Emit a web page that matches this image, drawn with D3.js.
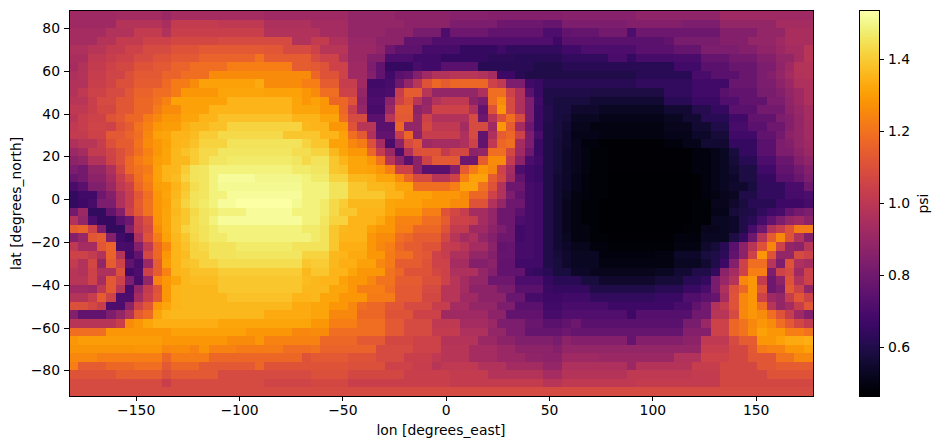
<!DOCTYPE html>
<html><head><meta charset="utf-8">
<style>html,body{margin:0;padding:0;background:#fff}svg{display:block}text{font-family:"DejaVu Sans",sans-serif;fill:#000}</style>
<script src="https://d3js.org/d3.v7.min.js"></script></head>
<body><svg id="c" width="939" height="448"></svg>
<script>
const xTicks=[-150,-100,-50,0,50,100,150];
const yTicks=[-80,-60,-40,-20,0,20,40,60,80];
const cbTicks=[0.6,0.8,1.0,1.2,1.4];
const lons=d3.range(80).map(i=>-180+4.5*i);
const lats=d3.range(45).map(j=>86-4*j);
const psiHundredths=[
[92,92,92,92,92,93,93,93,93,93,91,94,94,94,94,94,94,94,94,94,94,92,92,92,92,92,92,92,92,92,89,89,89,89,89,87,87,87,87,87,87,86,86,86,86,85,85,85,85,85,85,85,85,86,86,86,86,86,86,86,86,88,88,88,88,88,88,88,88,88,92,92,92,92,92,92,92,92,92,92],
[92,92,92,92,92,98,98,98,98,98,95,102,102,102,102,102,101,101,101,101,101,96,96,96,96,96,94,94,94,94,89,89,89,89,89,89,87,87,87,87,87,83,83,83,83,83,79,79,79,79,79,77,77,83,83,83,83,83,83,83,85,85,85,85,85,85,83,83,83,83,89,89,89,89,89,89,94,94,94,94],
[94,94,94,94,97,97,97,102,102,102,97,104,104,104,104,104,104,104,104,104,104,97,97,97,97,97,97,94,94,94,89,89,89,89,87,87,87,82,82,82,71,79,79,79,79,76,76,76,76,76,76,71,71,76,77,77,77,81,81,81,71,79,79,79,79,79,79,79,79,79,85,85,85,85,89,89,89,95,95,95],
[94,94,94,98,98,102,102,102,105,105,105,107,107,107,107,107,108,108,108,108,108,108,108,108,97,97,102,102,96,96,90,90,90,87,87,87,76,76,76,72,72,72,72,72,72,72,72,72,72,72,72,72,67,74,74,74,74,74,74,74,74,74,74,74,76,82,82,82,82,82,85,85,85,89,89,89,92,95,95,95],
[96,96,99,99,102,102,105,105,108,108,108,111,111,111,113,113,113,113,113,113,113,112,112,108,108,108,105,99,99,99,91,91,91,88,79,75,75,75,69,69,69,69,65,65,65,65,68,64,64,64,64,64,64,68,68,71,71,71,71,71,71,74,74,74,74,77,77,77,83,83,83,83,85,85,88,88,91,94,94,99],
[95,95,101,101,103,105,105,108,108,111,111,113,113,113,116,116,116,116,116,116,120,114,114,114,114,114,108,105,105,97,91,91,85,85,71,71,71,68,68,68,65,65,65,65,65,63,63,63,62,62,62,62,62,64,64,64,64,64,70,70,65,69,69,69,69,70,70,70,77,77,77,81,81,81,85,85,89,89,94,99],
[94,97,102,102,105,107,107,111,111,113,113,116,116,119,119,119,119,123,123,123,123,123,123,123,114,114,113,111,105,105,92,92,83,76,65,65,65,70,68,68,74,74,74,74,62,62,62,62,62,62,60,60,60,62,62,62,62,62,62,62,62,62,62,62,62,68,68,68,74,74,74,78,78,78,83,83,88,92,98,98],
[96,98,103,103,106,106,110,113,113,113,116,116,119,119,119,126,126,126,126,126,126,126,126,126,126,126,117,111,111,105,92,92,85,76,68,74,76,85,92,97,97,99,99,99,97,94,67,67,62,60,60,60,60,60,60,60,60,60,60,60,60,62,62,62,62,62,62,70,70,74,74,74,78,78,83,85,89,94,97,98],
[97,97,104,104,106,110,110,114,114,114,118,122,122,126,131,131,131,131,131,131,133,126,126,126,126,123,123,114,114,103,103,92,68,68,69,79,89,99,111,117,114,117,117,117,117,105,101,83,83,68,66,62,62,62,62,62,62,62,62,62,62,64,64,64,64,64,64,68,68,68,68,78,78,78,83,83,87,91,96,96],
[97,101,105,105,108,108,112,116,116,119,119,122,129,129,129,129,132,132,132,132,132,131,131,131,131,129,126,119,119,105,105,89,69,69,71,103,114,114,99,89,89,89,89,89,96,119,119,105,96,74,66,60,60,60,60,60,59,59,59,59,59,59,59,59,64,64,64,68,68,68,74,76,76,76,82,82,85,89,92,96],
[99,99,104,108,108,112,112,117,117,120,124,131,131,131,131,131,131,135,135,135,135,135,135,135,132,129,131,129,117,117,111,87,71,71,87,105,111,99,89,97,101,101,101,87,83,119,126,108,96,83,68,60,58,58,58,58,56,56,56,56,56,56,56,56,62,62,62,66,66,66,72,72,76,76,76,83,83,88,92,96],
[101,101,104,107,107,112,112,117,117,122,126,126,131,131,131,135,135,135,135,135,135,135,135,135,132,132,132,129,129,117,104,89,69,69,91,114,114,87,91,105,105,105,105,96,76,111,129,108,96,83,66,61,58,58,55,55,55,53,53,53,53,53,53,53,56,56,56,61,61,65,65,74,74,74,81,81,81,87,90,94],
[99,103,105,105,111,113,117,117,122,125,129,129,132,132,135,135,138,138,138,138,138,138,138,138,135,135,135,132,132,119,108,108,74,74,99,113,113,89,105,97,97,97,97,108,79,99,111,119,108,83,66,61,58,57,53,53,53,51,51,51,51,51,51,51,53,53,56,56,62,62,62,68,68,76,76,76,83,85,89,94],
[101,103,106,106,105,111,114,120,124,129,130,130,134,136,136,138,138,142,142,142,142,142,142,142,142,136,135,135,129,129,111,99,99,74,74,117,89,89,107,101,101,101,94,108,108,92,129,114,94,79,66,60,58,56,52,52,50,50,50,50,50,50,50,50,52,52,52,56,56,60,60,69,69,74,74,79,79,85,89,93],
[102,102,105,105,113,113,116,119,125,131,132,135,135,137,140,140,143,143,143,143,143,143,143,139,139,139,139,135,135,131,119,113,96,76,76,103,117,87,103,103,103,103,96,108,76,96,114,117,105,83,70,60,58,55,51,51,51,50,50,50,50,50,50,50,51,51,51,54,54,57,57,68,68,68,76,76,81,87,89,93],
[96,99,99,103,110,114,114,120,126,129,131,135,136,138,142,142,142,145,145,145,145,145,145,145,145,142,139,139,131,131,125,122,110,94,70,87,108,112,92,94,94,94,96,105,76,101,117,119,94,83,66,60,57,55,52,49,49,47,47,47,47,47,47,47,49,49,51,51,56,56,56,65,65,65,74,74,83,85,89,92],
[91,94,102,102,106,110,114,119,124,129,132,136,138,140,143,143,146,146,146,146,146,146,146,146,144,144,142,142,136,132,129,129,117,102,91,71,96,110,111,111,102,107,107,87,89,119,119,107,92,79,66,60,57,54,52,50,48,48,47,47,47,47,47,47,47,47,47,49,49,51,53,58,65,65,74,74,83,83,87,91],
[87,89,97,97,105,110,117,122,125,130,132,136,136,140,143,146,146,147,147,147,147,147,147,147,146,143,145,145,139,135,132,132,129,120,99,87,74,87,105,113,113,113,79,79,114,126,126,102,87,71,68,60,57,54,52,50,48,48,47,47,47,47,47,47,47,47,47,49,49,51,53,57,62,62,71,71,78,78,85,88],
[83,81,89,89,96,107,117,120,122,131,135,136,140,145,146,149,149,149,149,149,149,149,149,149,147,147,146,146,139,138,132,132,131,129,123,105,105,87,74,74,74,85,114,122,129,125,105,94,71,68,66,60,57,54,52,50,48,48,47,47,47,47,47,47,47,47,47,49,49,51,53,56,59,59,68,68,76,76,81,85],
[78,81,87,87,94,103,110,119,124,131,135,137,142,145,146,149,152,152,152,152,150,150,150,150,150,149,147,147,142,142,136,136,135,132,132,126,117,108,108,99,99,105,123,131,131,114,107,92,76,68,66,60,56,54,51,49,48,48,46,46,46,46,46,46,46,46,46,47,49,51,53,54,59,59,65,65,74,74,78,83],
[70,74,84,84,91,101,105,117,122,130,131,135,139,144,146,149,151,151,151,151,151,151,151,151,151,149,149,149,145,145,139,139,136,136,135,132,132,119,119,119,119,123,132,132,120,111,97,79,79,69,68,60,56,54,51,49,48,48,46,46,46,46,46,46,46,46,46,47,49,51,53,55,55,58,64,64,64,70,70,79],
[64,68,68,79,85,96,103,112,119,129,132,136,140,145,146,149,149,152,152,152,152,152,152,152,152,149,149,149,145,145,139,139,139,139,135,135,131,131,131,129,129,129,126,117,117,105,97,83,76,69,68,60,56,53,50,49,48,48,46,46,46,46,46,46,46,46,46,47,49,50,52,53,60,60,64,64,64,69,69,71],
[64,67,69,83,83,96,103,114,120,129,131,137,142,145,147,149,152,152,153,153,153,153,153,153,151,149,149,147,143,140,136,136,136,136,132,131,131,131,129,129,129,126,126,111,111,97,89,79,79,69,68,60,56,52,50,48,48,46,46,46,46,46,46,46,46,46,46,48,48,52,52,55,58,62,62,62,67,67,67,69],
[81,91,64,64,76,85,105,113,120,129,132,136,139,143,146,147,149,149,149,152,152,152,152,152,149,149,149,147,143,139,139,135,135,135,132,129,129,129,123,123,111,107,103,94,94,89,79,79,74,69,68,60,56,52,50,48,48,46,46,46,46,46,46,46,46,46,46,48,48,51,51,57,59,60,64,68,69,77,81,83],
[97,89,71,65,65,74,79,103,110,128,132,137,139,144,146,149,152,152,152,152,152,152,152,152,152,149,149,146,142,142,135,135,135,133,129,124,124,124,119,119,114,105,105,103,94,89,79,79,71,69,68,60,56,52,50,48,48,46,46,46,46,46,46,46,46,46,46,48,48,53,53,54,60,62,69,76,83,89,92,87],
[114,116,105,83,64,64,85,102,108,126,132,137,142,144,145,147,149,149,149,149,149,149,149,149,149,147,147,145,139,136,135,135,131,129,129,123,123,117,117,117,111,102,102,92,92,87,83,79,68,69,68,60,56,52,50,50,48,46,46,46,46,46,46,46,46,46,48,48,52,52,53,54,60,69,79,97,103,111,122,122],
[85,90,112,114,85,68,65,96,111,122,131,136,139,143,145,147,147,149,149,149,149,149,149,149,149,149,147,145,139,135,135,135,129,126,126,119,117,114,114,114,107,99,94,96,89,85,79,79,68,69,68,60,56,53,50,50,48,48,47,47,47,47,47,47,47,49,49,49,53,53,53,59,65,79,99,114,125,111,97,85],
[101,94,94,112,116,70,69,85,101,117,125,135,138,142,143,145,145,145,147,147,147,147,147,147,145,145,145,145,139,134,134,134,129,125,123,117,114,114,111,111,103,102,99,94,94,87,76,77,69,69,68,60,56,54,52,52,49,49,48,48,48,48,48,48,48,50,50,50,55,57,62,74,87,99,111,125,105,89,87,99],
[105,105,102,97,116,98,68,76,107,117,129,135,137,142,142,145,145,145,146,146,146,146,146,146,146,142,142,142,136,135,133,133,129,129,122,119,119,114,112,105,103,96,96,89,89,85,77,77,69,69,68,60,57,55,53,53,53,49,49,49,49,49,49,50,50,54,54,54,58,60,63,76,87,105,129,111,89,89,108,105],
[102,97,107,89,114,105,76,70,91,114,130,135,138,139,142,142,144,144,144,144,144,144,144,144,144,139,140,140,136,134,134,131,131,125,122,114,114,114,111,105,105,94,94,85,85,87,76,76,68,68,68,60,58,55,53,53,53,50,50,50,50,50,50,50,50,53,53,53,56,60,67,85,105,119,119,99,83,111,96,94],
[99,97,105,96,96,110,68,71,105,114,124,135,136,138,138,138,140,140,140,140,140,140,140,140,140,136,139,139,135,135,132,129,129,129,120,117,111,111,111,107,105,96,96,96,89,85,76,76,76,66,64,62,58,58,54,54,52,52,52,52,52,52,52,53,53,56,56,60,60,64,87,94,105,123,123,83,105,108,92,105],
[99,99,105,94,113,105,83,70,89,124,129,132,136,137,137,137,139,139,139,139,139,139,139,139,139,137,136,135,135,131,129,129,125,120,120,114,114,114,110,110,105,99,94,89,89,79,79,79,71,71,71,65,62,62,62,58,58,55,55,55,55,55,55,57,57,57,62,62,65,82,90,98,125,129,102,79,87,111,97,105],
[92,92,91,101,113,99,70,89,102,111,129,135,136,136,136,136,139,139,139,139,139,139,139,139,139,136,136,136,132,132,129,123,123,123,119,113,113,113,108,108,99,99,94,87,87,87,82,82,74,74,74,66,65,65,65,65,60,60,60,60,60,60,60,62,62,62,66,66,70,82,96,110,117,129,111,79,83,113,105,89],
[98,98,103,114,105,71,71,94,104,112,129,135,136,136,136,136,136,138,138,138,138,138,138,138,135,135,136,132,132,129,129,129,122,122,122,113,113,113,107,107,99,99,92,92,87,87,87,78,78,69,69,67,67,68,68,68,64,64,64,64,64,64,64,66,66,66,72,72,75,77,94,111,125,129,105,92,89,103,112,105],
[110,110,107,103,71,71,87,105,112,129,132,135,136,136,136,136,136,136,136,136,136,136,136,136,133,133,132,132,129,129,125,119,117,117,112,112,108,108,108,103,103,94,94,89,89,89,83,83,74,74,74,68,68,70,70,70,70,70,67,67,67,67,67,67,67,70,70,76,81,97,102,111,125,129,119,99,89,94,103,112],
[85,76,76,76,83,89,97,114,118,132,135,136,136,136,136,136,136,136,136,136,136,133,133,133,133,133,132,132,125,125,125,117,117,117,111,111,111,105,105,105,92,92,92,92,92,87,87,76,76,76,76,69,69,72,72,72,72,72,72,72,67,73,73,73,73,73,73,80,80,99,99,108,125,129,126,119,111,103,92,85],
[99,99,99,99,99,104,126,129,132,134,134,134,134,134,134,134,132,132,132,132,132,132,132,132,132,132,129,129,123,123,123,119,119,119,113,113,108,108,108,101,101,101,94,94,94,91,83,83,83,78,78,74,74,76,79,74,74,74,74,74,74,74,74,74,74,74,82,82,91,105,105,117,120,125,129,126,119,113,107,102],
[119,119,119,119,129,129,129,129,129,129,129,131,131,131,131,131,131,131,131,129,129,129,129,129,125,125,126,126,119,119,119,119,119,119,113,113,108,108,108,102,102,102,96,96,96,89,89,83,83,77,77,77,77,79,77,77,77,77,77,77,77,77,77,77,77,77,85,85,85,105,105,117,120,126,131,129,129,123,123,120],
[129,130,130,130,130,130,130,130,130,130,129,129,129,129,129,129,129,126,126,126,129,124,124,124,124,124,124,117,117,117,117,113,113,113,107,107,107,105,105,105,98,98,98,98,91,91,87,87,84,84,84,84,82,87,85,85,85,85,85,85,77,85,85,85,85,85,87,87,101,101,101,108,114,114,129,129,131,133,133,134],
[128,128,128,128,128,128,128,129,129,129,125,126,126,124,128,124,124,124,122,122,122,122,122,119,119,119,120,116,116,116,116,116,116,108,108,108,108,105,105,105,99,99,99,94,94,94,91,91,87,87,87,87,85,89,89,89,89,89,89,89,89,89,89,89,89,89,89,89,103,103,103,107,107,113,122,124,124,129,129,131],
[125,125,125,123,123,123,123,123,123,123,117,122,122,122,122,117,117,117,117,117,117,117,117,117,117,111,113,113,113,113,111,111,111,108,108,108,104,104,104,101,99,99,99,94,94,94,91,91,91,88,88,87,87,92,92,92,92,91,91,91,91,91,91,91,91,97,97,97,105,105,105,107,107,112,112,112,120,120,125,125],
[123,114,114,114,117,117,117,119,119,119,113,117,117,117,113,113,113,113,113,113,117,111,111,111,111,111,111,111,111,111,110,110,110,110,105,105,105,103,103,99,101,101,101,101,97,97,97,93,93,93,93,89,89,96,96,96,96,96,96,96,91,98,98,98,98,98,98,103,103,103,107,107,107,107,112,112,114,114,114,114],
[111,111,111,111,111,114,114,114,114,114,110,113,113,113,113,113,108,108,108,108,108,108,108,108,108,108,110,110,110,110,107,107,107,107,107,107,104,104,104,104,104,102,102,102,102,98,98,98,98,98,98,94,94,98,98,98,98,98,98,98,101,101,101,101,101,101,101,102,102,102,107,107,107,107,107,111,111,111,111,111],
[108,108,108,108,108,108,108,108,108,108,104,108,108,108,108,108,108,108,108,108,108,106,106,106,106,106,107,107,107,107,104,104,104,104,104,104,104,104,104,104,104,102,102,102,102,102,102,102,102,102,102,99,99,101,101,101,101,101,101,101,101,102,102,102,102,102,102,102,102,102,107,107,107,107,107,107,107,107,107,107],
[108,108,108,108,108,108,108,108,108,108,108,108,108,108,108,108,108,108,108,108,108,108,108,108,108,108,108,108,108,108,108,108,108,108,108,108,108,108,108,108,108,108,108,108,108,108,108,108,108,108,108,108,108,108,108,108,108,108,108,108,108,108,108,108,108,108,108,108,108,108,108,108,108,108,108,108,108,108,108,108]
];
const vMin=0.464, vMax=1.533;
const W=939,H=448,L=69,R=813,T=11,B=396;
const svg=d3.select("#c");
const x=d3.scaleLinear().domain([-182.25,177.75]).range([L,R]);
const y=d3.scaleLinear().domain([-92,88]).range([B,T]);
const color=d3.scaleSequential(d3.interpolateInferno).domain([vMin,vMax]);
const fs="13.9px";
const cells=[];
psiHundredths.forEach((row,j)=>row.forEach((v,i)=>cells.push({lon:lons[i],lat:lats[j],v:v/100})));
svg.append("g").attr("shape-rendering","crispEdges").selectAll("rect").data(cells).join("rect")
 .attr("x",d=>x(d.lon-2.25)).attr("y",d=>y(d.lat+2))
 .attr("width",d=>x(d.lon+2.25)-x(d.lon-2.25)).attr("height",d=>y(d.lat-2)-y(d.lat+2))
 .attr("fill",d=>color(d.v));
const minus=s=>String(s).replace("-","\u2212");
const gx=svg.append("g").attr("transform",`translate(0,${B})`).call(d3.axisBottom(x).tickValues(xTicks).tickSize(5).tickPadding(4).tickFormat(minus));
const gy=svg.append("g").attr("transform",`translate(${L},0)`).call(d3.axisLeft(y).tickValues(yTicks).tickSize(5).tickPadding(4).tickFormat(minus));
[gx,gy].forEach(g=>{g.selectAll("text").style("font-size",fs).style("font-family",'"DejaVu Sans"').attr("fill","#000");g.select(".domain").remove();g.selectAll("line").attr("stroke","#000").attr("shape-rendering","crispEdges");});
svg.append("rect").attr("x",L+.5).attr("y",T-.5).attr("width",R-L).attr("height",B-T+1).attr("fill","none").attr("stroke","#000").attr("shape-rendering","crispEdges");
svg.append("text").attr("x",441).attr("y",435).attr("text-anchor","middle").style("font-size",fs).text("lon [degrees_east]");
svg.append("text").attr("transform",`translate(21,${(T+B)/2}) rotate(-90)`).attr("text-anchor","middle").style("font-size",fs).text("lat [degrees_north]");
const cbL=859,cbR=879;
const cy=d3.scaleLinear().domain([vMin,vMax]).range([B,T]);
const steps=d3.range(256).map(k=>vMin+(vMax-vMin)*k/255);
const h=(B-T)/256;
svg.append("g").attr("shape-rendering","crispEdges").selectAll("rect").data(steps).join("rect")
 .attr("x",cbL).attr("width",cbR-cbL).attr("y",(d,k)=>B-(k+1)*h).attr("height",h+.6).attr("fill",d=>color(d));
svg.append("rect").attr("x",cbL+.5).attr("y",T-.5).attr("width",cbR-cbL).attr("height",B-T+1).attr("fill","none").attr("stroke","#000").attr("shape-rendering","crispEdges");
const gc=svg.append("g").attr("transform",`translate(${cbR},0)`).call(d3.axisRight(cy).tickValues(cbTicks).tickSize(5).tickPadding(4).tickFormat(d3.format(".1f")));
gc.select(".domain").remove();
gc.selectAll("text").style("font-size",fs).style("font-family",'"DejaVu Sans"').attr("fill","#000");
gc.selectAll("line").attr("stroke","#000").attr("shape-rendering","crispEdges");
svg.append("text").attr("transform",`translate(928,${(T+B)/2}) rotate(-90)`).attr("text-anchor","middle").style("font-size",fs).text("psi");
</script></body></html>
